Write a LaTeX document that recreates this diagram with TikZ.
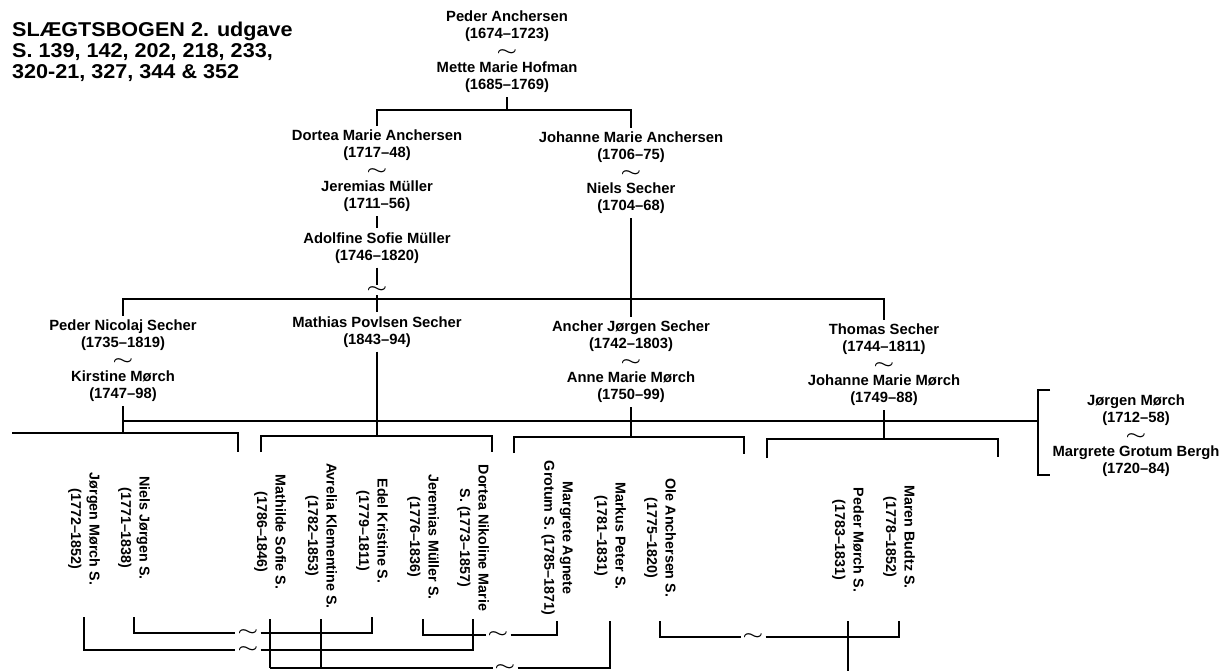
\documentclass[tikz,border=0pt]{standalone}
\usepackage{fontspec}
\setmainfont{Liberation Sans}
\newfontfamily\titlefont[FakeStretch=1.08]{Liberation Sans}
\usepackage{graphicx}
\newcommand{\mtilde}{\scalebox{1.6}[1.05]{\boldmath$\sim$}}
\begin{document}
\begin{tikzpicture}[x=1pt,y=-1pt,
  every node/.style={font=\bfseries\fontsize{14.8}{17}\selectfont},
  pers/.style={align=center, inner sep=4pt},
  kid/.style={align=center, rotate=-90, inner sep=2pt, font=\bfseries\fontsize{14.3}{18.5}\selectfont},
  tnode/.style={inner sep=2pt, font=\bfseries\fontsize{14}{17}\selectfont},
  ln/.style={line width=1.4pt},
  dot/.style={fill=black, draw=none}]
\fill[white] (0,0) rectangle (1223,670);
\useasboundingbox (0,0) rectangle (1223,670);

% title
\node[anchor=west, align=left, inner sep=0pt, font=\titlefont\bfseries\fontsize{20}{21}\selectfont] (title) at (12,52)
  {SLÆGTSBOGEN 2. udgave\\S. 139, 142, 202, 218, 233,\\320-21, 327, 344 \& 352};

% generation 1
\node[pers] (top) at (507,52) {Peder Anchersen\\(1674–1723)\\\mtilde\\Mette Marie Hofman\\(1685–1769)};
% generation 2
\node[pers] (dortea) at (377,171) {Dortea Marie Anchersen\\(1717–48)\\\mtilde\\Jeremias Müller\\(1711–56)};
\node[pers] (adolfine) at (377,248) {Adolfine Sofie Müller\\(1746–1820)};
\node[tnode] (a1) at (377,290) {\mtilde};
\node[pers] (johanne) at (631,173) {Johanne Marie Anchersen\\(1706–75)\\\mtilde\\Niels Secher\\(1704–68)};
% generation 3
\node[pers] (pns) at (123,361) {Peder Nicolaj Secher\\(1735–1819)\\\mtilde\\Kirstine Mørch\\(1747–98)};
\node[pers] (mathias) at (377,332) {Mathias Povlsen Secher\\(1843–94)};
\node[pers] (ancher) at (631,362) {Ancher Jørgen Secher\\(1742–1803)\\\mtilde\\Anne Marie Mørch\\(1750–99)};
\node[pers] (thomas) at (884,365) {Thomas Secher\\(1744–1811)\\\mtilde\\Johanne Marie Mørch\\(1749–88)};
\node[pers] (jorgen) at (1136,436) {Jørgen Mørch\\(1712–58)\\\mtilde\\Margrete Grotum Bergh\\(1720–84)};

% children (rotated)
\node[kid] (jms) at (84,529) {Jørgen Mørch S.\\(1772–1852)};
\node[kid] (njs) at (134,528) {Niels Jørgen S.\\(1771–1838)};
\node[kid] (mss) at (270,532) {Mathilde Sofie S.\\(1786–1846)};
\node[kid] (akl) at (321,536) {Avrelia Klementine S.\\(1782–1853)};
\node[kid] (eks) at (372,531) {Edel Kristine S.\\(1779–1811)};
\node[kid] (jmu) at (423,537) {Jeremias Müller S.\\(1776–1836)};
\node[kid] (dnm) at (473,538) {Dortea Nikoline Marie\\S. (1773–1857)};
\node[kid] (mag) at (557,538) {Margrete Agnete\\Grotum S. (1785–1871)};
\node[kid] (mps) at (610,536) {Markus Peter S.\\(1781–1831)};
\node[kid] (oas) at (660,538) {Ole Anchersen S.\\(1775–1820)};
\node[kid] (pms) at (848,540) {Peder Mørch S.\\(1783–1831)};
\node[kid] (mbs) at (899,537) {Maren Budtz S.\\(1778–1852)};

% marriage tildes at the bottom
\node[tnode] (t1) at (248,633) {\mtilde};
\node[tnode] (t2) at (248,650) {\mtilde};
\node[tnode] (t3) at (498,635) {\mtilde};
\node[tnode] (t4) at (505,668) {\mtilde};
\node[tnode] (t5) at (753,637) {\mtilde};

% helper coordinates
\coordinate (h0) at (507,110);
\coordinate (h1) at (500,299);
\coordinate (jbr) at (1038,421);
\coordinate (jbt) at (1050,390);
\coordinate (jbb) at (1050,475);
\coordinate (b1) at (0,433);
\coordinate (b2) at (0,436);
\coordinate (b3) at (0,437);
\coordinate (b4) at (0,439);
\coordinate (b1L) at (12,433);
\coordinate (b1R) at (238,433);
\coordinate (b2L) at (261,436);
\coordinate (b2R) at (492,436);
\coordinate (b3L) at (514,437);
\coordinate (b3R) at (744,437);
\coordinate (b4L) at (767,439);
\coordinate (b4R) at (998,439);
\coordinate (lv1) at (0,617);
\coordinate (lv2) at (0,619);
\coordinate (lv3) at (0,621);
\coordinate (bot) at (0,668);
\coordinate (edge) at (0,672);

% upper connectors
\draw[ln] (top.south) -- (h0);
\draw[ln] (dortea.north) |- (h0) -| (johanne.north);
\draw[ln] (dortea.south) -- (adolfine.north);
\draw[ln] (adolfine.south) -- (a1.north);
\draw[ln] (a1.south) -- (mathias.north);
\draw[ln] (pns.north) |- (h1) -| (thomas.north);
\draw[ln] (johanne.south) -- (ancher.north);

% Mørch line and bracket
\draw[ln] (pns.south) |- (jbr);
\draw[ln] (jbt) -| (jbr) |- (jbb);

% verticals to child brackets
\draw[ln] (pns.south) -- (pns.south |- b1);
\draw[ln] (mathias.south) -- (mathias.south |- b2);
\draw[ln] (ancher.south) -- (ancher.south |- b3);
\draw[ln] (thomas.south) -- (thomas.south |- b4);

% child brackets
\draw[ln] (b1L) -- (b1R) -- ++(0,19);
\draw[ln] ([yshift=-16pt]b2L) -- (b2L) -- (b2R) -- ++(0,16);
\draw[ln] ([yshift=-16pt]b3L) -- (b3L) -- (b3R) -- ++(0,17);
\draw[ln] ([yshift=-19pt]b4L) -- (b4L) -- (b4R) -- ++(0,18);

% marriages among the children
\draw[ln] (njs.center |- lv1) |- (t1.west);
\draw[ln] (t1.east) -| (eks.center |- lv1);
\draw[ln] (jms.center |- lv1) |- (t2.west);
\draw[ln] (t2.east) -| (dnm.center |- lv2);
\draw[ln] (jmu.center |- lv2) |- (t3.west);
\draw[ln] (t3.east) -| (mag.center |- lv3);
\draw[ln] (mss.center |- lv2) -- (mss.center |- bot);
\draw[ln] (akl.center |- lv2) -- (akl.center |- bot);
\draw[ln] (mss.center |- bot) -- (t4.west);
\draw[ln] (t4.east) -| (mps.center |- lv3);
\draw[ln] (oas.center |- lv3) |- (t5.west);
\draw[ln] (t5.east) -| (mbs.center |- lv3);
\draw[ln] (pms.center |- lv3) -- (pms.center |- edge);

% crossing dots
\foreach \p in {(270,633),(321,633),(270,650),(321,650),(473,635)}
  \fill[dot] \p circle (1.8);
\end{tikzpicture}
\end{document}
